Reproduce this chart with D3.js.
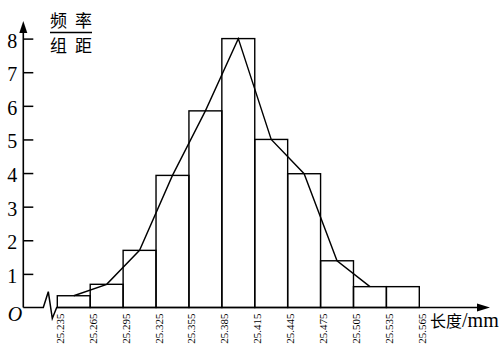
<!DOCTYPE html>
<html>
<head>
<meta charset="utf-8">
<script src="https://cdn.jsdelivr.net/npm/d3@7"></script>
<style>
  body { margin: 0; background: #fff; }
  svg { display: block; }
  .serif { font-family: "Liberation Serif", "Times New Roman", "DejaVu Serif", serif; }
</style>
</head>
<body>
<svg id="chart" width="503" height="348"></svg>
<script>
// bin edges (mm) and frequency / group width for each bin
const edges = [25.235, 25.265, 25.295, 25.325, 25.355, 25.385, 25.415, 25.445, 25.475, 25.505, 25.535, 25.565];
const density = [0.35, 0.69, 1.7, 3.93, 5.85, 8, 5, 3.98, 1.39, 0.62, 0.62];
const yTicks = [1, 2, 3, 4, 5, 6, 7, 8];

const svg = d3.select("#chart");
const cjk = "'Noto Sans CJK SC', sans-serif";

const axisX = 23.3;
const baseY = 307.5;

const xScale = d3.scaleLinear().domain([25.235, 25.565]).range([57.3, 419.3]);
const yScale = d3.scaleLinear().domain([0, 8]).range([baseY, 38.6]);

// bars
const bins = density.map((v, i) => ({ x0: edges[i], x1: edges[i + 1], v }));
svg.append("g")
  .selectAll("rect")
  .data(bins)
  .join("rect")
  .attr("x", d => xScale(d.x0))
  .attr("y", d => yScale(d.v))
  .attr("width", d => xScale(d.x1) - xScale(d.x0))
  .attr("height", d => baseY - yScale(d.v))
  .attr("fill", "none")
  .attr("stroke", "#000")
  .attr("stroke-width", 1.4);

// frequency polygon through the mid points of bars 1..10
const line = d3.line()
  .x(d => xScale((d.x0 + d.x1) / 2))
  .y(d => yScale(d.v));
svg.append("path")
  .datum(bins.slice(0, 10))
  .attr("d", line)
  .attr("fill", "none")
  .attr("stroke", "#000")
  .attr("stroke-width", 1.4);

// y axis (ticks pointing inward)
const yAxis = d3.axisLeft(yScale).tickValues(yTicks).tickSize(-10).tickPadding(6);
const gy = svg.append("g")
  .attr("transform", `translate(${axisX},0)`)
  .call(yAxis)
  .attr("font-family", null)
  .attr("font-size", null)
  .attr("class", "serif");
gy.select(".domain").remove();
gy.selectAll("line").attr("stroke", "#000").attr("stroke-width", 1.5);
gy.selectAll("text")
  .attr("fill", "#000")
  .attr("dy", "0.42em")
  .style("font-size", "20px");

svg.append("line")
  .attr("x1", axisX).attr("x2", axisX)
  .attr("y1", baseY).attr("y2", 28)
  .attr("stroke", "#000").attr("stroke-width", 1.6);
svg.append("path")
  .attr("d", `M${axisX},21 L${axisX - 4},33 L${axisX + 4},33 Z`)
  .attr("fill", "#000");

// x axis with a break
const xAxis = d3.axisBottom(xScale).tickValues(edges).tickSize(0).tickFormat(d3.format(".3f"));
const gx = svg.append("g")
  .attr("transform", `translate(0,${baseY})`)
  .call(xAxis)
  .attr("font-family", null)
  .attr("font-size", null)
  .attr("class", "serif");
gx.select(".domain").remove();
gx.selectAll("text")
  .attr("fill", "#000")
  .attr("text-anchor", "end")
  .attr("transform", "translate(6,6) rotate(-90)")
  .attr("x", 0)
  .attr("y", 0)
  .attr("dy", 0)
  .style("font-size", "11px");

svg.append("path")
  .attr("d", `M${axisX},${baseY} L43.3,${baseY} L48.3,291.7 L52.3,318.5 L56.7,${baseY} L478,${baseY}`)
  .attr("fill", "none")
  .attr("stroke", "#000")
  .attr("stroke-width", 1.5);
svg.append("path")
  .attr("d", `M490,${baseY} L477,${baseY - 4} L477,${baseY + 4} Z`)
  .attr("fill", "#000");

// labels
svg.append("text")
  .attr("class", "serif")
  .attr("x", 15).attr("y", 321)
  .attr("text-anchor", "middle")
  .style("font-style", "italic")
  .style("font-size", "20px")
  .text("O");

const xl = svg.append("text")
  .attr("x", 430).attr("y", 327);
xl.append("tspan").style("font-family", cjk).style("font-size", "16px").text("长度");
xl.append("tspan").attr("class", "serif").style("font-size", "20px").text("/mm");

svg.append("text")
  .attr("x", 50).attr("y", 27)
  .style("font-family", cjk)
  .style("font-size", "17px")
  .style("letter-spacing", "8px")
  .text("频率");
svg.append("line")
  .attr("x1", 50).attr("x2", 92)
  .attr("y1", 32.5).attr("y2", 32.5)
  .attr("stroke", "#000").attr("stroke-width", 1.5);
svg.append("text")
  .attr("x", 50).attr("y", 52)
  .style("font-family", cjk)
  .style("font-size", "17px")
  .style("letter-spacing", "8px")
  .text("组距");
</script>
</body>
</html>
